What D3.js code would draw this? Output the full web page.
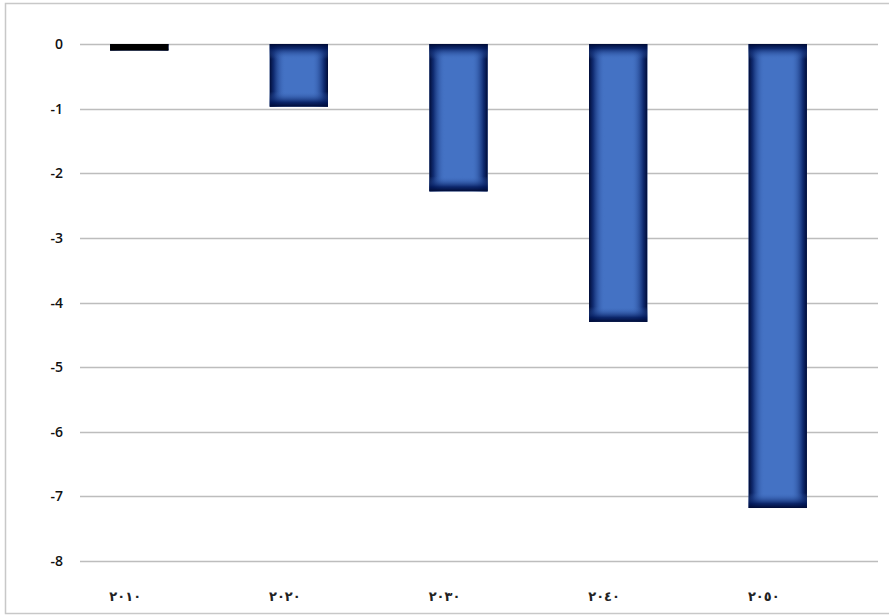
<!DOCTYPE html>
<html>
<head>
<meta charset="utf-8">
<script src="https://cdn.jsdelivr.net/npm/d3@7"></script>
<style>
  body { margin: 0; background: #fff; }
  svg { display: block; }
</style>
</head>
<body>
<svg width="889" height="615"></svg>
<script>
(function () {

// data
var years = ["2010", "2020", "2030", "2040", "2050"];
var yearLabels = ["٢٠١٠", "٢٠٢٠", "٢٠٣٠", "٢٠٤٠", "٢٠٥٠"];
var values = [-0.1, -0.97, -2.28, -4.3, -7.18];
var yTicks = [0, -1, -2, -3, -4, -5, -6, -7, -8];

var svg = d3.select('svg');
var defs = svg.append('defs');

// outer frame (runs off the right edge like the original)
svg.append('rect')
  .attr('x', 5.5).attr('y', 3.5)
  .attr('width', 900).attr('height', 610)
  .style('fill', 'none').style('stroke', '#c8c8c8').style('stroke-width', 1.5);

var y = d3.scaleLinear().domain([-8, 0]).range([561, 44]);
var x = d3.scaleBand().domain(years).range([59, 858]).paddingInner(0.635).paddingOuter(0.32);

// gridlines
svg.selectAll('line.grid')
  .data(yTicks)
  .enter().append('line')
  .attr('class', 'grid')
  .attr('x1', 80).attr('x2', 878)
  .attr('y1', function (d) { return Math.round(y(d)) + 0.5; })
  .attr('y2', function (d) { return Math.round(y(d)) + 0.5; })
  .style('stroke', '#bdbdbd').style('stroke-width', 1.3);

// y tick labels
svg.selectAll('text.ylab')
  .data(yTicks)
  .enter().append('text')
  .attr('class', 'ylab')
  .attr('x', 63)
  .attr('y', function (d) { return y(d) + 5; })
  .attr('text-anchor', 'end')
  .style('font-family', 'Open Sans, Liberation Sans, sans-serif')
  .style('font-size', '14px')
  .style('font-weight', 600)
  .style('fill', '#111')
  .text(function (d) { return d; });

// horizontal shading shared by all bars
var hg = defs.append('linearGradient').attr('id', 'hshade')
  .attr('x1', 0).attr('x2', 1).attr('y1', 0).attr('y2', 0);
hg.append('stop').attr('offset', 0).attr('stop-color', '#000b35').attr('stop-opacity', 1);
hg.append('stop').attr('offset', 0.07).attr('stop-color', '#031a5c').attr('stop-opacity', 0.8);
hg.append('stop').attr('offset', 0.27).attr('stop-color', '#4472c4').attr('stop-opacity', 0);
hg.append('stop').attr('offset', 0.73).attr('stop-color', '#4472c4').attr('stop-opacity', 0);
hg.append('stop').attr('offset', 0.93).attr('stop-color', '#031a5c').attr('stop-opacity', 0.8);
hg.append('stop').attr('offset', 1).attr('stop-color', '#000b35').attr('stop-opacity', 1);

var edge = 15; // px of darkening at top and bottom
var bars = svg.selectAll('g.bar')
  .data(values)
  .enter().append('g')
  .attr('class', 'bar');

bars.each(function (v, i) {
  var g = d3.select(this);
  var bx = x(years[i]);
  var top = y(0);
  var h = y(v) - y(0);
  var id = 'vshade' + i;
  var f = Math.min(0.5, edge / h);
  var vg = defs.append('linearGradient').attr('id', id)
    .attr('x1', 0).attr('x2', 0).attr('y1', 0).attr('y2', 1);
  vg.append('stop').attr('offset', 0).attr('stop-color', '#000b35').attr('stop-opacity', 1);
  vg.append('stop').attr('offset', f * 0.3).attr('stop-color', '#031a5c').attr('stop-opacity', 0.8);
  vg.append('stop').attr('offset', f).attr('stop-color', '#4472c4').attr('stop-opacity', 0);
  vg.append('stop').attr('offset', 1 - f).attr('stop-color', '#4472c4').attr('stop-opacity', 0);
  vg.append('stop').attr('offset', 1 - f * 0.3).attr('stop-color', '#031a5c').attr('stop-opacity', 0.85);
  vg.append('stop').attr('offset', 1).attr('stop-color', '#000b35').attr('stop-opacity', 1);

  g.append('rect').attr('x', bx).attr('y', top).attr('width', x.bandwidth()).attr('height', h)
    .style('fill', '#4472c4');
  g.append('rect').attr('x', bx).attr('y', top).attr('width', x.bandwidth()).attr('height', h)
    .style('fill', 'url(#hshade)');
  g.append('rect').attr('x', bx).attr('y', top).attr('width', x.bandwidth()).attr('height', h)
    .style('fill', 'url(#' + id + ')');
  if (h < 10) {
    g.append('rect').attr('x', bx).attr('y', top).attr('width', x.bandwidth()).attr('height', h)
      .style('fill', '#000');
  }
});

// category labels (Arabic-Indic digits)
svg.selectAll('text.xlab')
  .data(years)
  .enter().append('text')
  .attr('class', 'xlab')
  .attr('x', function (d) { return x(d) + x.bandwidth() / 2 - 14; })
  .attr('y', 601)
  .attr('text-anchor', 'middle')
  .style('font-family', 'DejaVu Sans, Noto Sans, sans-serif')
  .style('font-size', '13px')
  .style('font-weight', 'bold')
  .style('letter-spacing', '3.5px')
  .style('fill', '#222')
  .text(function (d, i) { return yearLabels[i]; });

})();
</script>
</body>
</html>
